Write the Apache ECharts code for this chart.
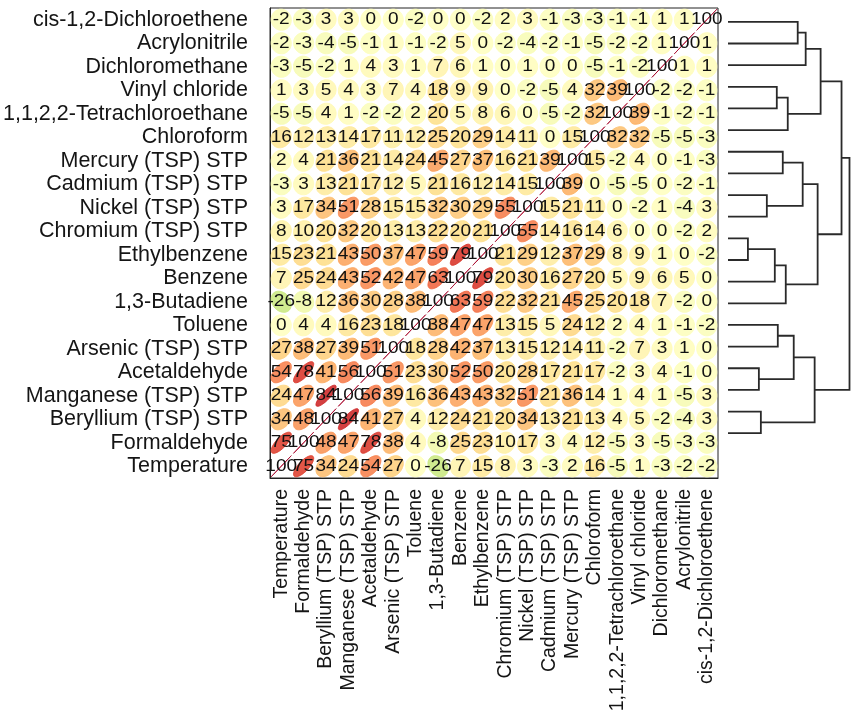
<!DOCTYPE html>
<html>
<head>
<meta charset="utf-8">
<title>Correlation matrix</title>
<script src="https://cdn.jsdelivr.net/npm/echarts@6/dist/echarts.min.js"></script>
<style>
  html, body { margin: 0; padding: 0; background: #fff; }
  #chart { width: 851px; height: 717px; }
</style>
</head>
<body>
<div id="chart"></div>
<script>
// variables in column order (left -> right); rows use the same order bottom -> top
const variables = [
  'Temperature', 'Formaldehyde', 'Beryllium (TSP) STP', 'Manganese (TSP) STP',
  'Acetaldehyde', 'Arsenic (TSP) STP', 'Toluene', '1,3-Butadiene', 'Benzene',
  'Ethylbenzene', 'Chromium (TSP) STP', 'Nickel (TSP) STP', 'Cadmium (TSP) STP',
  'Mercury (TSP) STP', 'Chloroform', '1,1,2,2-Tetrachloroethane', 'Vinyl chloride',
  'Dichloromethane', 'Acrylonitrile', 'cis-1,2-Dichloroethene'
]

// correlation x 100, one row per variable, columns in `variables` order
const rTemperature   = [100, 75, 34, 24, 54, 27, 0, -26, 7, 15, 8, 3, -3, 2, 16, -5, 1, -3, -2, -2]
const rFormaldehyde  = [75, 100, 48, 47, 78, 38, 4, -8, 25, 23, 10, 17, 3, 4, 12, -5, 3, -5, -3, -3]
const rBeryllium     = [34, 48, 100, 84, 41, 27, 4, 12, 24, 21, 20, 34, 13, 21, 13, 4, 5, -2, -4, 3]
const rManganese     = [24, 47, 84, 100, 56, 39, 16, 36, 43, 43, 32, 51, 21, 36, 14, 1, 4, 1, -5, 3]
const rAcetaldehyde  = [54, 78, 41, 56, 100, 51, 23, 30, 52, 50, 20, 28, 17, 21, 17, -2, 3, 4, -1, 0]
const rArsenic       = [27, 38, 27, 39, 51, 100, 18, 28, 42, 37, 13, 15, 12, 14, 11, -2, 7, 3, 1, 0]
const rToluene       = [0, 4, 4, 16, 23, 18, 100, 38, 47, 47, 13, 15, 5, 24, 12, 2, 4, 1, -1, -2]
const rButadiene     = [-26, -8, 12, 36, 30, 28, 38, 100, 63, 59, 22, 32, 21, 45, 25, 20, 18, 7, -2, 0]
const rBenzene       = [7, 25, 24, 43, 52, 42, 47, 63, 100, 79, 20, 30, 16, 27, 20, 5, 9, 6, 5, 0]
const rEthylbenzene  = [15, 23, 21, 43, 50, 37, 47, 59, 79, 100, 21, 29, 12, 37, 29, 8, 9, 1, 0, -2]
const rChromium      = [8, 10, 20, 32, 20, 13, 13, 22, 20, 21, 100, 55, 14, 16, 14, 6, 0, 0, -2, 2]
const rNickel        = [3, 17, 34, 51, 28, 15, 15, 32, 30, 29, 55, 100, 15, 21, 11, 0, -2, 1, -4, 3]
const rCadmium       = [-3, 3, 13, 21, 17, 12, 5, 21, 16, 12, 14, 15, 100, 39, 0, -5, -5, 0, -2, -1]
const rMercury       = [2, 4, 21, 36, 21, 14, 24, 45, 27, 37, 16, 21, 39, 100, 15, -2, 4, 0, -1, -3]
const rChloroform    = [16, 12, 13, 14, 17, 11, 12, 25, 20, 29, 14, 11, 0, 15, 100, 32, 32, -5, -5, -3]
const rTetrachloro   = [-5, -5, 4, 1, -2, -2, 2, 20, 5, 8, 6, 0, -5, -2, 32, 100, 39, -1, -2, -1]
const rVinylChloride = [1, 3, 5, 4, 3, 7, 4, 18, 9, 9, 0, -2, -5, 4, 32, 39, 100, -2, -2, -1]
const rDichlorometh  = [-3, -5, -2, 1, 4, 3, 1, 7, 6, 1, 0, 1, 0, 0, -5, -1, -2, 100, 1, 1]
const rAcrylonitrile = [-2, -3, -4, -5, -1, 1, -1, -2, 5, 0, -2, -4, -2, -1, -5, -2, -2, 1, 100, 1]
const rCisDichloro   = [-2, -3, 3, 3, 0, 0, -2, 0, 0, -2, 2, 3, -1, -3, -3, -1, -1, 1, 1, 100]

const corrRows = [rTemperature, rFormaldehyde, rBeryllium, rManganese, rAcetaldehyde,
  rArsenic, rToluene, rButadiene, rBenzene, rEthylbenzene, rChromium, rNickel, rCadmium,
  rMercury, rChloroform, rTetrachloro, rVinylChloride, rDichlorometh, rAcrylonitrile, rCisDichloro]

// dendrogram: 20 leaves top -> bottom (same as the rows); merges like R's hclust:
// negative = leaf number (1-based, from the top), positive = earlier merge
const dendroMerges = [
  [-11, -12, 0.20], [-17, -18, 0.31], [-19, -20, 0.33], [-9, -10, 0.39],
  [1, -13, 0.47], [-4, -5, 0.49], [-15, -16, 0.50], [-7, -8, 0.55],
  [5, -14, 0.58], [6, -6, 0.60], [7, 2, 0.66], [-1, -2, 0.70],
  [8, 4, 0.75], [12, -3, 0.78], [11, 3, 0.87], [13, 9, 0.90],
  [14, 10, 0.93], [17, 16, 1.14], [18, 15, 1.22]
]

// RdYlGn, red end = +1
const palette = ['#a50026', '#d73027', '#f46d43', '#fdae61', '#fee08b', '#ffffbf',
  '#d9ef8b', '#a6d96a', '#66bd63', '#1a9850', '#006837']

function hexRgb(h) { return [1, 3, 5].map(i => parseInt(h.substr(i, 2), 16)) }
function corrColor(r) {
  const p = (1 - r) * 5
  const i = Math.min(9, Math.floor(p)), f = p - i
  const a = hexRgb(palette[i]), b = hexRgb(palette[i + 1])
  const c = a.map((v, k) => Math.round(v + (b[k] - v) * f))
  return 'rgb(' + c.join(',') + ')'
}

const cells = []
corrRows.forEach((row, ri) => row.forEach((v, ci) => cells.push([ci, ri, v])))

// dendrogram segments from the merges
const nodePos = [], nodeH = []
function child(k) {
  return k < 0 ? { p: -k - 1, h: 0 } : { p: nodePos[k - 1], h: nodeH[k - 1] }
}
const dendroData = dendroMerges.map(m => {
  const a = child(m[0]), b = child(m[1])
  nodePos.push((a.p + b.p) / 2)
  nodeH.push(m[2])
  return [m[2], a.p, b.p, a.h, b.h]
})

const textFont = 'Liberation Sans, Arial, sans-serif'
const chart = echarts.init(document.getElementById('chart'))

chart.setOption({
  backgroundColor: '#fff',
  animation: false,
  grid: [
    { left: 268, right: 133, top: 8, bottom: 239, show: true, borderColor: '#222', borderWidth: 1 },
    { left: 728, right: 1, top: 11, bottom: 273 }
  ],
  xAxis: [{
    type: 'category', data: variables, gridIndex: 0,
    axisLine: { lineStyle: { color: '#222' } },
    axisTick: { alignWithLabel: true, length: 9, lineStyle: { color: '#222' } },
    axisLabel: { rotate: 90, interval: 0, fontSize: 19.5, color: '#151515', fontFamily: textFont, margin: 11 },
    splitLine: { show: false }
  }, {
    type: 'value', gridIndex: 1, min: 0, max: 1.225, show: false
  }],
  yAxis: [{
    type: 'category', data: variables, gridIndex: 0,
    axisLine: { lineStyle: { color: '#222' } },
    axisTick: { alignWithLabel: true, length: 10, lineStyle: { color: '#222' } },
    axisLabel: { interval: 0, fontSize: 21.5, color: '#151515', fontFamily: textFont, margin: 22 },
    splitLine: { show: false }
  }, {
    type: 'value', gridIndex: 1, min: -0.5, max: 19.5, inverse: true, show: false
  }],
  series: [{
    type: 'custom', xAxisIndex: 0, yAxisIndex: 0, data: cells,
    renderItem(params, api) {
      const c = api.coord([api.value(0), api.value(1)])
      const sz = api.size([1, 1])
      const r = Math.max(-1, Math.min(1, api.value(2) / 100))
      const a = Math.acos(r) / 2
      const pts = []
      for (let k = 0; k < 48; k++) {
        const t = k / 48 * Math.PI * 2
        pts.push([c[0] + 0.45 * sz[0] * Math.cos(t + a), c[1] - 0.45 * sz[1] * Math.cos(t - a)])
      }
      const col = corrColor(r)
      return { type: 'polygon', shape: { points: pts }, style: { fill: col, stroke: col, lineWidth: 1, opacity: 0.88 } }
    }
  }, {
    type: 'custom', xAxisIndex: 0, yAxisIndex: 0, data: cells, z: 5,
    renderItem(params, api) {
      const c = api.coord([api.value(0), api.value(1)])
      return {
        type: 'text', x: c[0], y: c[1], scaleX: 1.12,
        style: {
          text: String(api.value(2)), fill: '#111', fontSize: 17, fontFamily: textFont,
          textAlign: 'center', textVerticalAlign: 'middle'
        }
      }
    }
  }, {
    type: 'custom', xAxisIndex: 1, yAxisIndex: 1, data: dendroData,
    renderItem(params, api) {
      const h = api.value(0), pa = api.value(1), pb = api.value(2)
      const pts = [
        api.coord([api.value(3), pa]), api.coord([h, pa]),
        api.coord([h, pb]), api.coord([api.value(4), pb])
      ]
      return { type: 'polyline', shape: { points: pts }, style: { stroke: '#2a2a2a', lineWidth: 1.8, fill: null } }
    }
  }]
})
</script>
</body>
</html>
